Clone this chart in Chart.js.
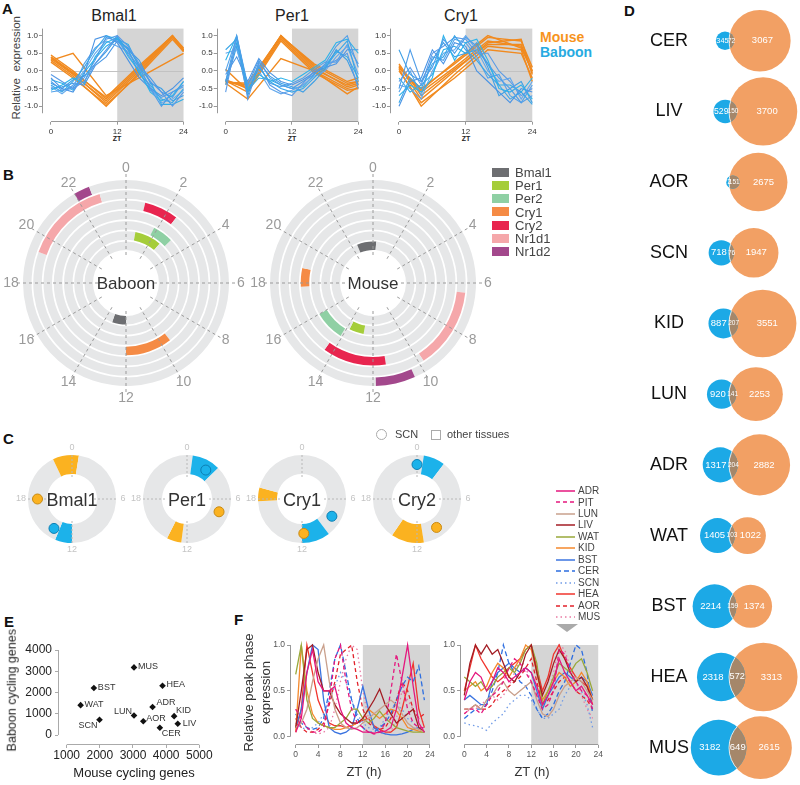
<!DOCTYPE html>
<html>
<head>
<meta charset="utf-8">
<title>Clock genes: baboon vs mouse</title>
<script src="https://cdn.jsdelivr.net/npm/chart.js@4.4.1/dist/chart.umd.min.js"></script>
<style>
 body { margin: 0; background: #fff; }
 #fig { position: relative; width: 800px; height: 785px; overflow: hidden; background: #fff;
        font-family: 'Liberation Sans', Arial, sans-serif; color: #222; }
 #fig canvas { position: absolute; }
 .t { position: absolute; white-space: pre; line-height: 1; }
 .c { text-align: center; }
 .letter { position: absolute; line-height: 1; font: bold 15px 'Liberation Sans Narrow', 'Liberation Sans', sans-serif; color: #111; }
 .rot { position: absolute; line-height: 1; text-align: center; white-space: pre; transform: rotate(-90deg); }
</style>
</head>
<body>
<div id="fig">
 <div class="letter" style="left:2px;top:0px">A</div>
 <div class="letter" style="left:3px;top:166px">B</div>
 <div class="letter" style="left:3px;top:430px">C</div>
 <div class="letter" style="left:624px;top:2px">D</div>
 <div class="letter" style="left:4px;top:613px">E</div>
 <div class="letter" style="left:234px;top:611px">F</div>

 <div class="t c" style="left:74px;top:8px;width:80px;font-size:16px">Bmal1</div>
 <div class="t c" style="left:252px;top:8px;width:80px;font-size:16px">Per1</div>
 <div class="t c" style="left:421px;top:8px;width:80px;font-size:16px">Cry1</div>
 <div class="t" style="left:540px;top:30px;font-size:14px;font-weight:bold;color:#f7941d">Mouse</div>
 <div class="t" style="left:540px;top:45px;font-size:14px;font-weight:bold;color:#27aae1">Baboon</div>
 <div class="rot" style="left:-43px;top:62px;width:120px;height:11.5px;font-size:11.5px;color:#444">Relative  expression</div>
 <div class="t c" style="left:102px;top:135px;width:30px;font-size:7px;font-weight:bold">ZT</div>
 <div class="t c" style="left:277px;top:135px;width:30px;font-size:7px;font-weight:bold">ZT</div>
 <div class="t c" style="left:451px;top:135px;width:30px;font-size:7px;font-weight:bold">ZT</div>

 <canvas id="a1" width="190" height="123" style="left:0px;top:22px"></canvas>
 <canvas id="a2" width="175" height="123" style="left:190px;top:22px"></canvas>
 <canvas id="a3" width="175" height="123" style="left:365px;top:22px"></canvas>

 <canvas id="b1" width="250" height="250" style="left:1px;top:158px"></canvas>
 <canvas id="b2" width="250" height="250" style="left:248px;top:158px"></canvas>
 <div class="t c" style="left:76px;top:275px;width:100px;font-size:17px;color:#333">Baboon</div>
 <div class="t c" style="left:323px;top:275px;width:100px;font-size:17px;color:#333">Mouse</div>
 <div id="bleg"></div>

 <canvas id="c1" width="120" height="120" style="left:12px;top:439px"></canvas>
 <canvas id="c2" width="120" height="120" style="left:127px;top:439px"></canvas>
 <canvas id="c3" width="120" height="120" style="left:242px;top:439px"></canvas>
 <canvas id="c4" width="120" height="120" style="left:357px;top:439px"></canvas>
 <div id="ccenter"></div>
 <div style="position:absolute;left:376px;top:429px;width:11px;height:11px;box-sizing:border-box;border:1px solid #aaa;border-radius:50%"></div>
 <div class="t" style="left:395px;top:429px;font-size:11px;color:#444">SCN</div>
 <div style="position:absolute;left:431px;top:430px;width:10px;height:10px;box-sizing:border-box;border:1px solid #aaa"></div>
 <div class="t" style="left:447px;top:429px;font-size:11px;color:#444">other tissues</div>

 <canvas id="d" width="180" height="785" style="left:620px;top:0px"></canvas>

 <canvas id="e" width="215" height="155" style="left:0px;top:630px"></canvas>
 <div class="rot" style="left:-63px;top:683.75px;width:150px;height:12.5px;font-size:12.5px">Baboon cycling genes</div>
 <div class="t c" style="left:54px;top:765.5px;width:160px;font-size:13px">Mouse cycling genes</div>

 <canvas id="f1" width="205" height="150" style="left:232px;top:635px"></canvas>
 <canvas id="f2" width="175" height="150" style="left:430px;top:635px"></canvas>
 <div class="rot" style="left:178px;top:685.5px;width:140px;height:13px;font-size:13px;color:#333">Relative peak phase</div>
 <div class="rot" style="left:195px;top:685.5px;width:140px;height:13px;font-size:13px;color:#333">expression</div>
 <div class="t c" style="left:324px;top:764.5px;width:80px;font-size:13px;color:#333">ZT (h)</div>
 <div class="t c" style="left:492px;top:764.5px;width:80px;font-size:13px;color:#333">ZT (h)</div>
 <div id="fleg"></div>
 <div style="position:absolute;left:556px;top:624px;width:0;height:0;border-left:11px solid transparent;border-right:11px solid transparent;border-top:8px solid #aaa"></div>
</div>

<script>
'use strict';

// ---------- A : relative expression over the day ----------
var aMouseZT = [0, 4, 10, 16, 22, 24];
var aBaboonZT = [0, 2, 4, 6, 8, 10, 12, 14, 16, 18, 20, 22, 24];

var bmal1Mouse = [
 [0.35, -0.10, -0.85, 0.05, 1.00, 0.60],
 [0.40, -0.05, -0.75, 0.15, 1.00, 0.60],
 [0.30, -0.15, -1.00, -0.05, 0.95, 0.55],
 [0.45, 0.00, -0.80, 0.10, 1.00, 0.65],
 [0.30, 0.50, -0.70, -0.19, 0.33, 0.50],
 [0.38, -0.08, -0.90, 0.00, 0.98, 0.58],
 [0.25, -0.20, -0.95, -0.10, 0.90, 0.55]
];
var bmal1Baboon = [
 [-0.30, -0.55, -0.45, -0.20, 0.30, 0.95, 0.85, 0.50, 0.10, -0.50, -1.00, -0.60, -0.40],
 [-0.40, -0.60, -0.30, 0.10, 0.60, 1.00, 0.90, 0.60, -0.10, -0.40, -0.80, -0.90, -0.50],
 [-0.10, -0.30, -0.50, -0.30, 0.20, 0.60, 1.00, 0.70, 0.20, -0.30, -0.60, -1.00, -0.60],
 [-0.55, -0.40, -0.20, -0.35, 0.40, 0.80, 0.95, 0.40, 0.00, -0.60, -0.85, -0.70, -0.30],
 [-0.20, -0.50, -0.60, -0.10, 0.90, 1.00, 0.80, 0.30, -0.20, -0.50, -0.70, -0.50, -0.20],
 [-0.45, -0.65, -0.40, 0.00, 0.50, 0.85, 0.70, 0.55, 0.05, -0.45, -0.90, -0.80, -0.55],
 [-0.35, -0.50, -0.25, -0.15, 0.20, 0.55, 0.95, 0.60, 0.30, -0.35, -0.50, -0.85, -0.70],
 [-0.60, -0.55, -0.50, 0.20, 0.65, 0.90, 1.00, 0.45, -0.05, -0.55, -0.75, -0.60, -0.45],
 [-0.25, -0.35, -0.55, -0.05, 0.35, 0.70, 0.90, 0.75, 0.10, -0.30, -0.95, -0.95, -0.80],
 [-0.50, -0.45, -0.35, -0.40, 0.15, 0.40, 0.85, 0.65, 0.15, -0.20, -0.60, -0.75, -0.30]
];
var per1Mouse = [
 [-0.30, -0.45, 1.00, 0.10, -0.45, -0.35],
 [-0.25, -0.50, 0.95, 0.05, -0.40, -0.30],
 [-0.35, -0.80, 0.35, 0.00, -0.65, -0.45],
 [-0.30, -0.40, 1.00, 0.15, -0.35, -0.30],
 [0.05, -0.55, 0.90, 0.00, -0.50, -0.40],
 [-0.32, -0.35, 0.98, 0.20, -0.30, -0.20],
 [-0.28, -0.60, 0.85, -0.05, -0.55, -0.50]
];
var per1Baboon = [
 [-0.30, 1.00, -0.40, 0.30, -0.20, -0.40, -0.50, -0.30, -0.10, 0.20, 0.70, 1.00, 0.10],
 [0.60, 0.90, -0.60, 0.10, -0.30, -0.50, -0.60, -0.50, -0.20, 0.10, 0.50, 0.85, -0.30],
 [-0.60, 0.95, -0.80, 0.20, -0.40, -0.60, -0.70, -0.35, 0.00, 0.15, 0.30, 0.50, -0.50],
 [0.30, 1.00, -0.50, -0.10, -0.30, -0.20, -0.30, -0.10, 0.10, 0.30, 0.80, 0.90, 0.50],
 [-0.10, 0.40, -0.30, 0.35, -0.05, -0.30, -0.40, -0.25, -0.05, 0.10, 0.20, 0.60, 0.60],
 [0.50, 0.60, -0.40, 0.00, -0.50, -0.65, -0.55, -0.40, -0.15, 0.00, 0.40, 0.70, -0.10],
 [-0.40, 0.70, -0.70, 0.25, -0.15, -0.35, -0.45, -0.60, -0.30, 0.05, 0.60, 0.30, -0.40],
 [0.00, 0.95, -0.45, 0.15, -0.35, -0.45, -0.35, -0.20, 0.05, 0.25, 0.25, 0.75, 0.20],
 [-0.30, 0.80, -0.55, -0.20, -0.25, -0.40, -0.50, -0.45, -0.10, 0.15, 0.55, 0.40, -0.20]
];
var cry1Mouse = [
 [0.10, -0.60, 0.10, 0.85, 0.70, 0.00],
 [0.15, -0.80, 0.00, 0.80, 0.90, -0.10],
 [0.05, -1.00, -0.10, 0.70, 0.60, -0.30],
 [0.10, -0.50, 0.20, 0.95, 0.85, 0.10],
 [0.20, -0.70, 0.05, 0.75, 0.75, -0.05],
 [0.00, -0.90, -0.20, 0.60, 0.50, -0.20],
 [0.10, -0.55, 0.25, 1.00, 0.65, 0.00]
];
var cry1Baboon = [
 [-0.50, 0.60, -0.30, 0.10, 0.90, 0.50, 0.95, 0.70, 0.20, -0.20, -0.50, -0.90, -0.70],
 [-0.90, -0.20, -0.50, 0.20, 0.40, 1.00, 0.60, 0.30, -0.10, -0.40, -0.80, -0.60, -0.95],
 [-0.30, 0.10, -0.40, 0.50, 0.70, 0.95, 0.90, 0.50, 0.50, 0.00, -0.30, -0.70, -0.50],
 [-0.70, -0.40, -0.60, -0.20, 1.00, 0.30, 0.80, 0.90, 0.30, -0.50, -0.60, -0.40, -0.80],
 [-1.00, -0.30, -0.20, 0.60, 0.20, 0.80, 0.70, 0.00, -0.30, -0.60, -0.90, -0.50, -0.60],
 [-0.40, -0.50, -0.80, 0.00, 0.50, 0.60, 1.00, 0.60, 0.00, -0.30, -0.20, -0.80, -0.30],
 [0.60, -0.10, -0.30, 0.30, 0.80, 0.40, 0.50, 0.80, 0.10, -0.70, -0.50, -0.30, -0.90],
 [-0.60, 0.00, -0.70, 0.40, 0.30, 0.90, 0.80, 0.40, -0.20, -0.10, -0.70, -0.90, -0.40],
 [-0.20, -0.60, -0.40, -0.10, 0.60, 0.70, 0.50, 0.60, 0.20, -0.40, -0.40, -0.60, -0.20]
];

// ---------- B : peak phase per clock gene ----------
var bGenes = ['Bmal1', 'Per1', 'Per2', 'Cry1', 'Cry2', 'Nr1d1', 'Nr1d2'];
var baboonPhase = [[12.0, 13.3], [0.7, 2.7], [1.8, 3.1], [9.5, 12.0], [0.9, 2.5], [19.3, 22.9], [22.0, 22.6]];
var mousePhase = [[22.5, 0.3], [12.7, 13.8], [14.1, 16.0], [17.8, 18.8], [11.4, 14.4], [6.4, 9.8], [10.4, 11.9]];
var clockHours = [0, 2, 4, 6, 8, 10, 12, 14, 16, 18, 20, 22];

// ---------- C : SCN vs other tissues ----------
var cGenes = ['Bmal1', 'Per1', 'Cry1', 'Cry2'];
var cMouseTissues = [[22.3, 0.6], [12.5, 13.8], [17.8, 19.0], [11.4, 14.3]];
var cBaboonTissues = [[12.0, 13.5], [0.5, 3.0], [9.5, 12.0], [0.6, 2.5]];
var cMouseSCN = [18.0, 7.45, 11.8, 9.7];
var cBaboonSCN = [14.1, 2.2, 8.0, 0.0];
var cHours = [0, 6, 12, 18];

// ---------- D : overlap of cycling genes ----------
var vennTissues = ['CER', 'LIV', 'AOR', 'SCN', 'KID', 'LUN', 'ADR', 'WAT', 'BST', 'HEA', 'MUS'];
var baboonOnly = [345, 529, 72, 718, 887, 920, 1317, 1405, 2214, 2318, 3182];
var sharedGenes = [72, 150, 151, 76, 207, 141, 204, 103, 159, 572, 649];
var mouseOnly = [3067, 3700, 2675, 1947, 3551, 2253, 2882, 1022, 1374, 3313, 2615];

// ---------- E : cycling gene counts ----------
var eTissues = ['MUS', 'BST', 'WAT', 'SCN', 'LUN', 'AOR', 'ADR', 'HEA', 'KID', 'LIV', 'CER'];
var eMouse = [3030, 1820, 1420, 1990, 3030, 3310, 3590, 3890, 4240, 4350, 3810];
var eBaboon = [3182, 2214, 1405, 718, 920, 650, 1317, 2318, 887, 529, 345];

// ---------- F : relative peak phase expression ----------
var fZT = [0, 1, 2, 3, 4, 5, 6, 7, 8, 9, 10, 11, 12, 13, 14, 15, 16, 17, 18, 19, 20, 21, 22, 23];
var fTissues = ['ADR', 'PIT', 'LUN', 'LIV', 'WAT', 'KID', 'BST', 'CER', 'SCN', 'HEA', 'AOR', 'MUS'];
var fLeft = [
 [0.05, 0.20, 0.70, 0.95, 0.60, 0.50, 0.50, 0.55, 0.30, 0.15, 0.10, 0.08, 0.05, 0.05, 0.04, 0.05, 0.06, 0.10, 0.30, 0.65, 1.00, 0.55, 0.15, 0.05],
 [0.30, 0.20, 0.10, 0.05, 0.05, 0.10, 0.40, 0.85, 1.00, 0.60, 0.30, 0.15, 0.10, 0.05, 0.03, 0.05, 0.15, 0.50, 0.90, 0.60, 0.30, 0.15, 0.10, 0.10],
 [0.10, 0.15, 0.30, 0.60, 0.85, 1.00, 0.60, 0.30, 0.15, 0.10, 0.08, 0.10, 0.15, 0.20, 0.25, 0.30, 0.35, 0.40, 0.35, 0.25, 0.15, 0.10, 0.08, 0.05],
 [0.10, 0.50, 0.95, 1.00, 0.70, 0.50, 0.50, 0.35, 0.25, 0.20, 0.15, 0.15, 0.20, 0.30, 0.40, 0.52, 0.35, 0.25, 0.15, 0.20, 0.25, 0.30, 0.10, 0.05],
 [0.68, 1.00, 0.40, 0.20, 0.15, 0.12, 0.10, 0.10, 0.15, 0.20, 0.30, 0.30, 0.20, 0.15, 0.20, 0.28, 0.20, 0.15, 0.10, 0.08, 0.06, 0.05, 0.05, 0.05],
 [0.05, 1.00, 0.50, 0.25, 0.15, 0.12, 0.10, 0.08, 0.08, 0.10, 0.12, 0.15, 0.20, 0.30, 0.25, 0.20, 0.25, 0.30, 0.28, 0.20, 0.10, 0.08, 0.06, 0.05],
 [0.10, 0.30, 0.70, 1.00, 0.95, 0.40, 0.10, 0.05, 0.03, 0.05, 0.10, 0.30, 0.55, 0.30, 0.10, 0.05, 0.03, 0.02, 0.02, 0.03, 0.05, 0.08, 0.10, 0.05],
 [0.25, 0.15, 0.10, 0.08, 0.10, 0.20, 0.50, 0.85, 1.00, 0.70, 0.40, 0.20, 0.10, 0.05, 0.05, 0.10, 0.15, 0.25, 0.40, 0.55, 0.65, 0.60, 0.77, 0.40],
 [0.15, 0.10, 0.08, 0.10, 0.15, 0.25, 0.40, 0.55, 0.70, 0.60, 0.40, 0.25, 0.15, 0.10, 0.08, 0.10, 0.20, 0.30, 0.35, 0.30, 0.20, 0.15, 0.10, 0.10],
 [0.05, 0.30, 1.00, 0.70, 0.40, 0.25, 0.15, 0.12, 0.12, 0.10, 0.12, 0.15, 0.18, 0.20, 0.12, 0.08, 0.05, 0.05, 0.10, 0.30, 0.55, 0.80, 0.30, 0.10],
 [0.20, 0.10, 0.05, 0.05, 0.08, 0.15, 0.35, 0.60, 0.90, 0.95, 1.00, 0.60, 0.30, 0.15, 0.10, 0.08, 0.10, 0.20, 0.40, 0.60, 0.50, 0.30, 0.20, 0.25],
 [0.30, 0.20, 0.10, 0.05, 0.03, 0.05, 0.10, 0.30, 0.60, 0.85, 1.00, 0.95, 0.50, 0.20, 0.10, 0.05, 0.03, 0.05, 0.20, 0.50, 0.40, 0.30, 0.20, 0.15]
];
var fRight = [
 [0.40, 0.60, 0.70, 0.65, 0.50, 0.60, 0.75, 0.70, 0.60, 0.65, 0.70, 0.75, 0.70, 0.55, 0.35, 0.45, 0.60, 0.85, 0.70, 0.60, 0.50, 0.55, 0.45, 0.35],
 [0.25, 0.30, 0.30, 0.25, 0.35, 0.45, 0.50, 0.60, 0.75, 0.85, 0.80, 0.70, 0.60, 0.45, 0.30, 0.35, 0.50, 0.95, 0.90, 0.70, 0.60, 0.50, 0.45, 0.30],
 [0.30, 0.30, 0.35, 0.30, 0.40, 0.45, 0.55, 0.60, 0.50, 0.45, 0.50, 0.55, 0.60, 0.40, 0.25, 0.22, 0.30, 0.45, 0.55, 0.60, 0.65, 0.60, 0.50, 0.40],
 [0.45, 0.80, 1.00, 0.90, 1.00, 0.90, 0.95, 0.80, 0.65, 0.60, 0.70, 0.90, 1.00, 0.70, 0.45, 0.60, 0.80, 0.95, 0.85, 0.70, 0.60, 0.65, 0.55, 0.40],
 [0.65, 0.60, 0.55, 0.60, 0.50, 0.55, 0.65, 0.70, 0.75, 0.70, 0.80, 0.95, 1.00, 0.80, 0.35, 0.50, 0.65, 0.80, 0.75, 0.70, 0.80, 0.85, 0.70, 0.50],
 [0.50, 0.55, 0.60, 0.50, 0.55, 0.70, 0.80, 0.75, 0.65, 0.75, 0.85, 1.00, 0.95, 0.70, 0.40, 0.50, 0.60, 0.70, 0.65, 0.55, 0.60, 0.70, 0.60, 0.40],
 [0.40, 0.45, 0.40, 0.35, 0.35, 0.60, 0.70, 0.75, 0.80, 0.75, 0.70, 0.75, 0.70, 0.50, 0.30, 0.45, 0.55, 0.65, 0.70, 0.65, 0.60, 0.65, 0.60, 0.45],
 [0.20, 0.25, 0.30, 0.30, 0.35, 0.50, 0.70, 1.00, 0.80, 0.70, 0.60, 0.55, 0.45, 0.30, 0.20, 0.25, 0.35, 0.50, 0.60, 0.80, 1.00, 0.95, 0.70, 0.25],
 [0.15, 0.13, 0.12, 0.10, 0.07, 0.15, 0.20, 0.25, 0.35, 0.40, 0.45, 0.45, 0.40, 0.30, 0.20, 0.20, 0.25, 0.30, 0.45, 0.55, 0.60, 0.50, 0.35, 0.10],
 [0.50, 0.75, 1.00, 0.85, 0.75, 0.65, 0.60, 0.65, 0.75, 0.80, 0.85, 0.95, 1.00, 0.75, 0.50, 0.65, 0.90, 1.00, 0.85, 0.75, 0.65, 0.60, 0.55, 0.35],
 [0.30, 0.30, 0.35, 0.30, 0.30, 0.35, 0.45, 0.50, 0.55, 0.60, 0.65, 0.75, 0.85, 0.60, 0.35, 0.40, 0.50, 0.60, 0.65, 0.60, 0.50, 0.45, 0.40, 0.30],
 [0.25, 0.30, 0.30, 0.35, 0.40, 0.45, 0.40, 0.45, 0.55, 0.70, 0.85, 0.75, 0.60, 0.45, 0.35, 0.45, 0.70, 1.00, 0.95, 0.75, 0.60, 0.45, 0.30, 0.20]
];

// ---------- styles ----------
var mouseColor = '#f18a1f';
var blueShades = ['#4f9de8', '#3aa6e8', '#5a9ae6', '#2fb3ea', '#4a94e4', '#62a8ec', '#3d9fe6', '#55a3ea', '#2eaee8', '#4b99e6'];
var geneColors = ['#6d6e71', '#a5cd3a', '#8fd0a4', '#f58b45', '#e8254f', '#f5a7aa', '#a3488c'];
var ringGray = '#e6e7e8';
var fColors = ['#e5177e', '#e5177e', '#c9a08c', '#a31d24', '#98a83a', '#f4892c', '#3b74e0', '#2d6ee0', '#6f9ae6', '#f1342d', '#e2222b', '#e97aa2'];
var fDash = [[], [4, 3], [], [], [], [], [], [5, 3], [1.5, 3], [], [4, 3], [1.5, 3]];

Chart.defaults.animation = false;
Chart.defaults.events = [];
Chart.defaults.font.family = "'Liberation Sans', Arial, sans-serif";
Chart.defaults.layout.autoPadding = false;
Chart.defaults.plugins.legend.display = false;
Chart.defaults.plugins.tooltip.enabled = false;

// ---------- plugins ----------
var shadePlugin = {
  id: 'shade',
  beforeDatasetsDraw: function (chart, args, o) {
    var ca = chart.chartArea, xs = chart.scales.x, ctx = chart.ctx;
    var x0 = xs.getPixelForValue(o.from), x1 = xs.getPixelForValue(o.to);
    ctx.save();
    ctx.fillStyle = o.color;
    ctx.fillRect(x0, ca.top, x1 - x0, ca.bottom - ca.top);
    if (o.zero) {
      var y0 = Math.round(chart.scales.y.getPixelForValue(0)) + 0.5;
      ctx.strokeStyle = o.zero;
      ctx.lineWidth = 1;
      ctx.beginPath();
      ctx.moveTo(xs.getPixelForValue(0), y0);
      ctx.lineTo(x1, y0);
      ctx.stroke();
    }
    ctx.restore();
  }
};

var axesPlugin = {
  id: 'offsetAxes',
  afterDatasetsDraw: function (chart, args, o) {
    var ca = chart.chartArea, xs = chart.scales.x, ys = chart.scales.y, ctx = chart.ctx;
    var xl = Math.round(ca.left) + 0.5, yb = Math.round(ca.bottom) - 0.5;
    ctx.save();
    ctx.strokeStyle = o.color;
    ctx.lineWidth = 1;
    ctx.beginPath();
    ctx.moveTo(xl, ys.getPixelForValue(o.y[0]));
    ctx.lineTo(xl, ys.getPixelForValue(o.y[1]));
    ctx.moveTo(xs.getPixelForValue(o.x[0]), yb);
    ctx.lineTo(xs.getPixelForValue(o.x[1]), yb);
    ctx.stroke();
    ctx.restore();
  }
};

var clockPlugin = {
  id: 'clock',
  afterDatasetsDraw: function (chart, args, o) {
    var outer = chart.getDatasetMeta(0).data[0];
    var inner = chart.getDatasetMeta(chart.data.datasets.length - 1).data[0];
    var cx = outer.x, cy = outer.y, R = outer.outerRadius, r0 = inner.innerRadius;
    var ctx = chart.ctx;
    function ang(h) { return h / 24 * Math.PI * 2 - Math.PI / 2; }
    ctx.save();
    ctx.strokeStyle = o.lineColor;
    ctx.lineWidth = 1;
    ctx.setLineDash(o.dash);
    ctx.font = o.font;
    ctx.fillStyle = o.textColor;
    ctx.textAlign = 'center';
    ctx.textBaseline = 'middle';
    o.hours.forEach(function (h) {
      var a = ang(h), c = Math.cos(a), s = Math.sin(a);
      ctx.beginPath();
      ctx.moveTo(cx + c * (r0 - o.inset), cy + s * (r0 - o.inset));
      ctx.lineTo(cx + c * (R + o.over), cy + s * (R + o.over));
      ctx.stroke();
      ctx.fillText(String(h), cx + c * (R + o.labelGap), cy + s * (R + o.labelGap));
    });
    ctx.setLineDash([]);
    (o.dots || []).forEach(function (d) {
      var a = ang(d.h), rm = (R + r0) / 2;
      ctx.beginPath();
      ctx.arc(cx + Math.cos(a) * rm, cy + Math.sin(a) * rm, o.dotRadius, 0, Math.PI * 2);
      ctx.fillStyle = d.fill;
      ctx.fill();
      ctx.strokeStyle = d.stroke;
      ctx.stroke();
    });
    ctx.restore();
  }
};

var labelPlugin = {
  id: 'pointLabels',
  afterDatasetsDraw: function (chart, args, o) {
    var ctx = chart.ctx;
    ctx.save();
    ctx.font = o.font;
    ctx.fillStyle = o.color;
    ctx.textBaseline = 'middle';
    chart.getDatasetMeta(0).data.forEach(function (pt, i) {
      var p = o.place[o.names[i]];
      ctx.textAlign = p[0] < 0 ? 'right' : 'left';
      ctx.fillText(o.names[i], pt.x + p[0], pt.y + p[1]);
    });
    ctx.restore();
  }
};

var vennPlugin = {
  id: 'venn',
  afterDatasetsDraw: function (chart, args, o) {
    var ctx = chart.ctx;
    var blue = chart.getDatasetMeta(0).data, orange = chart.getDatasetMeta(1).data;
    // shrink the count text when its region is narrow
    function count(n, from, to, y) {
      var s = String(n), w = to - from;
      var size = Math.max(6.5, Math.min(o.maxSize, (w - 1) / (0.56 * s.length)));
      ctx.font = size + "px 'Liberation Sans', Arial, sans-serif";
      ctx.fillText(s, (from + to) / 2, y);
    }
    ctx.save();
    blue.forEach(function (b, i) {
      var m = orange[i], r1 = b.options.radius, r2 = m.options.radius, y = b.y;
      ctx.save();
      ctx.beginPath();
      ctx.arc(b.x, y, r1, 0, Math.PI * 2);
      ctx.clip();
      ctx.beginPath();
      ctx.arc(m.x, y, r2, 0, Math.PI * 2);
      ctx.fillStyle = o.lens;
      ctx.fill();
      ctx.strokeStyle = o.edge;
      ctx.lineWidth = 1;
      ctx.stroke();
      ctx.restore();
      var lensL = m.x - r2, lensR = b.x + r1;
      ctx.fillStyle = '#fff';
      ctx.textAlign = 'center';
      ctx.textBaseline = 'middle';
      count(baboonOnly[i], b.x - r1, lensL, y);
      count(sharedGenes[i], lensL, lensR, y);
      count(mouseOnly[i], lensR, m.x + r2, y);
      ctx.fillStyle = o.labelColor;
      ctx.font = o.labelFont;
      ctx.fillText(vennTissues[i], o.labelX, y);
    });
    ctx.restore();
  }
};

// ---------- helpers ----------
function xy(zt, vals) {
  return vals.map(function (v, j) { return { x: zt[j], y: v }; });
}

function lineSet(zt, vals, color, width, dash) {
  return { data: xy(zt, vals), borderColor: color, borderWidth: width, borderDash: dash || [],
           pointRadius: 0, tension: 0, fill: false, clip: false };
}

function axis(o) {
  return {
    type: 'linear', min: o.min, max: o.max,
    afterFit: o.fit,
    afterBuildTicks: function (s) { s.ticks = o.ticks.map(function (v) { return { value: v }; }); },
    border: { display: false },
    grid: { drawOnChartArea: false, drawTicks: true, tickLength: o.tickLength || 3, color: o.lineColor },
    ticks: { autoSkip: false, maxRotation: 0, padding: o.padding, color: o.color, font: { size: o.size }, callback: o.format }
  };
}

function oneDecimal(v) { return Number(v).toFixed(1); }
function plain(v) { return String(v); }

// split a 24 h ring into gray / coloured pieces
function ringData(arcs, base) {
  var parts = [];
  arcs.forEach(function (a) {
    if (a[1] < a[0]) { parts.push([a[0], 24, a[2]]); parts.push([0, a[1], a[2]]); }
    else parts.push(a);
  });
  parts.sort(function (p, q) { return p[0] - q[0]; });
  var data = [], colors = [], t = 0;
  parts.forEach(function (p) {
    if (p[0] > t) { data.push(p[0] - t); colors.push(base); }
    data.push(p[1] - p[0]); colors.push(p[2]);
    t = p[1];
  });
  if (t < 24) { data.push(24 - t); colors.push(base); }
  return { data: data, colors: colors };
}

// ---------- A ----------
function panelA(id, mouse, baboon, yw, padRight) {
  var sets = baboon.map(function (v, i) { return lineSet(aBaboonZT, v, blueShades[i % blueShades.length], 1.1); })
    .concat(mouse.map(function (v) { return lineSet(aMouseZT, v, mouseColor, 1.4); }));
  return new Chart(document.getElementById(id), {
    type: 'line',
    data: { datasets: sets },
    options: {
      responsive: false,
      layout: { padding: { left: 0, right: padRight, top: 6.6, bottom: 0 } },
      scales: {
        x: axis({ min: -1.62, max: 24.2, ticks: [0, 12, 24], fit: function (s) { s.height = 23.3; },
                  lineColor: '#999', padding: 2, color: '#333', size: 8, format: plain }),
        y: axis({ min: -1.44, max: 1.2, ticks: [-1, -0.5, 0, 0.5, 1], fit: function (s) { s.width = yw; },
                  lineColor: '#999', padding: 1, color: '#333', size: 8, format: oneDecimal })
      },
      plugins: {
        shade: { from: 12, to: 24, color: '#d5d5d5', zero: '#c2c2c2' },
        offsetAxes: { x: [0, 24], y: [-1.2, 1.2], color: '#999' }
      }
    },
    plugins: [shadePlugin, axesPlugin]
  });
}
panelA('a1', bmal1Mouse, bmal1Baboon, 42, 4.6);
panelA('a2', per1Mouse, per1Baboon, 26.7, 5.6);
panelA('a3', cry1Mouse, cry1Baboon, 25, 6.6);

// ---------- B ----------
function panelB(id, phases) {
  var sets = [];
  for (var g = bGenes.length - 1; g >= 0; g--) {
    var seg = ringData([[phases[g][0], phases[g][1], geneColors[g]]], ringGray);
    sets.push({ data: seg.data, backgroundColor: seg.colors, borderWidth: 0, weight: 1 });
    if (g > 0) sets.push({ data: [1], backgroundColor: 'rgba(0,0,0,0)', borderWidth: 0, weight: 0.2 });
  }
  return new Chart(document.getElementById(id), {
    type: 'doughnut',
    data: { datasets: sets },
    options: {
      responsive: false, cutout: 33, layout: { padding: 22 },
      plugins: { clock: { hours: clockHours, font: "14px 'Liberation Sans', Arial, sans-serif", textColor: '#9a9a9a',
                          lineColor: '#9a9a9a', dash: [3, 3], inset: 5, over: 6, labelGap: 12 } }
    },
    plugins: [clockPlugin]
  });
}
panelB('b1', baboonPhase);
panelB('b2', mousePhase);

var bleg = document.getElementById('bleg');
bGenes.forEach(function (g, i) {
  var yc = 172.3 + i * 13.2;
  var sw = document.createElement('div');
  sw.setAttribute('style', 'position:absolute;left:492px;top:' + (yc - 4.5) + 'px;width:16.5px;height:9px;background:' + geneColors[i]);
  var tx = document.createElement('div');
  tx.className = 't';
  tx.setAttribute('style', 'left:515px;top:' + (yc - 6.4) + 'px;font-size:13px;color:#444');
  tx.textContent = g;
  bleg.append(sw);
  bleg.append(tx);
});

// ---------- C ----------
var cOrange = '#fbb220', cBlue = '#1cb2ea';
cGenes.forEach(function (g, i) {
  var seg = ringData([[cMouseTissues[i][0], cMouseTissues[i][1], cOrange], [cBaboonTissues[i][0], cBaboonTissues[i][1], cBlue]], ringGray);
  new Chart(document.getElementById('c' + (i + 1)), {
    type: 'doughnut',
    data: { datasets: [{ data: seg.data, backgroundColor: seg.colors, borderWidth: 0 }] },
    options: {
      responsive: false, cutout: 25, layout: { padding: 16 },
      plugins: { clock: { hours: cHours, font: "9px 'Liberation Sans', Arial, sans-serif", textColor: '#c4c4c4',
                          lineColor: '#b8b8b8', dash: [2, 2], inset: 3, over: 1, labelGap: 7, dotRadius: 5,
                          dots: [{ h: cMouseSCN[i], fill: cOrange, stroke: '#c98a12' },
                                 { h: cBaboonSCN[i], fill: cBlue, stroke: '#0c7fb4' }] } }
    },
    plugins: [clockPlugin]
  });
  var tx = document.createElement('div');
  tx.className = 't c';
  tx.setAttribute('style', 'left:' + (22 + i * 115) + 'px;top:491px;width:100px;font-size:18px;color:#333');
  tx.textContent = g;
  document.getElementById('ccenter').append(tx);
});

// ---------- D ----------
function lensArea(r1, r2, d) {
  if (d >= r1 + r2) return 0;
  if (d <= Math.abs(r1 - r2)) return Math.PI * Math.pow(Math.min(r1, r2), 2);
  var a1 = Math.acos((d * d + r1 * r1 - r2 * r2) / (2 * d * r1));
  var a2 = Math.acos((d * d + r2 * r2 - r1 * r1) / (2 * d * r2));
  return r1 * r1 * a1 + r2 * r2 * a2 - 0.5 * Math.sqrt((-d + r1 + r2) * (d + r1 - r2) * (d - r1 + r2) * (d + r1 + r2));
}
function centreGap(r1, r2, area) {
  var lo = Math.abs(r1 - r2), hi = r1 + r2;
  for (var k = 0; k < 60; k++) {
    var mid = (lo + hi) / 2;
    if (lensArea(r1, r2, mid) > area) lo = mid; else hi = mid;
  }
  return (lo + hi) / 2;
}
// px radius per sqrt(gene count); the figure draws mouse circles a bit larger
var kBaboon = 0.45, kMouse = 0.55;
var vennRows = vennTissues.map(function (t, i) {
  var r1 = kBaboon * Math.sqrt(baboonOnly[i] + sharedGenes[i]);
  var r2 = kMouse * Math.sqrt(mouseOnly[i] + sharedGenes[i]);
  var d = centreGap(r1, r2, Math.PI * kBaboon * kMouse * sharedGenes[i]);
  // mouse circle's left edge sits on x = 0
  return { r1: r1, r2: r2, bx: r2 - d, mx: r2 };
});
new Chart(document.getElementById('d'), {
  type: 'bubble',
  data: { datasets: [
    { data: vennRows.map(function (r, i) { return { x: r.bx, y: i, r: r.r1 }; }), backgroundColor: '#1ca9e6', borderWidth: 0, clip: false },
    { data: vennRows.map(function (r, i) { return { x: r.mx, y: i, r: r.r2 }; }), backgroundColor: '#f2a064', borderWidth: 0, clip: false }
  ] },
  options: {
    responsive: false, layout: { padding: 0, autoPadding: false },
    scales: {
      x: { type: 'linear', display: false, min: -109, max: 71 },
      y: { type: 'linear', display: false, reverse: true, min: -0.576, max: 10.528 }
    },
    plugins: { venn: { lens: '#a5876a', edge: 'rgba(255,255,255,0.8)', maxSize: 9.5,
                       labelFont: "18px 'Liberation Sans', Arial, sans-serif", labelColor: '#111', labelX: 49 } }
  },
  plugins: [vennPlugin]
});

// ---------- E ----------
new Chart(document.getElementById('e'), {
  type: 'scatter',
  data: { datasets: [{ data: eMouse.map(function (m, i) { return { x: m, y: eBaboon[i] }; }),
                       pointStyle: 'rectRot', pointRadius: 3.3, backgroundColor: '#111', borderWidth: 0 }] },
  options: {
    responsive: false,
    layout: { padding: { left: 0, right: 14, top: 20, bottom: 0 } },
    scales: {
      x: axis({ min: 738, max: 5051, ticks: [1000, 2000, 3000, 4000, 5000], fit: function (s) { s.height = 40; },
                lineColor: '#aaa', padding: 0, color: '#222', size: 12, format: plain }),
      y: axis({ min: -470, max: 4000, ticks: [0, 1000, 2000, 3000, 4000], fit: function (s) { s.width = 58; },
                lineColor: '#aaa', padding: 3, color: '#222', size: 12, format: plain })
    },
    plugins: {
      offsetAxes: { x: [1000, 5000], y: [0, 4000], color: '#aaa' },
      pointLabels: { names: eTissues, font: "9px 'Liberation Sans', Arial, sans-serif", color: '#333',
                     place: { MUS: [4, -1], BST: [4, 0], WAT: [4, -1], SCN: [-2, 6], LUN: [-2, -4], AOR: [3, -3],
                              ADR: [4, -5], HEA: [4, -1], KID: [2, -6], LIV: [5, 0], CER: [2, 6] } }
    }
  },
  plugins: [axesPlugin, labelPlugin]
});

// ---------- F ----------
function panelF(id, rows, xmin, yw, padRight) {
  var sets = rows.map(function (v, i) { return lineSet(fZT, v, fColors[i], 1.3, fDash[i]); });
  return new Chart(document.getElementById(id), {
    type: 'line',
    data: { datasets: sets },
    options: {
      responsive: false,
      layout: { padding: { left: 0, right: padRight, top: 10, bottom: 0 } },
      scales: {
        x: axis({ min: xmin, max: 24.36, ticks: [0, 4, 8, 12, 16, 20, 24], fit: function (s) { s.height = 40; },
                  lineColor: '#999', padding: 2, color: '#555', size: 8.5, format: plain }),
        y: axis({ min: -0.09, max: 1.0, ticks: [0, 0.5, 1], fit: function (s) { s.width = yw; },
                  lineColor: '#999', padding: 2, color: '#555', size: 8.5, format: oneDecimal })
      },
      plugins: {
        shade: { from: 12, to: 24, color: '#d5d5d5' },
        offsetAxes: { x: [0, 24], y: [0, 1], color: '#999' }
      }
    },
    plugins: [shadePlugin, axesPlugin]
  });
}
panelF('f1', fLeft, -1.02, 58, 5);
panelF('f2', fRight, -0.77, 30, 4);

var fleg = document.getElementById('fleg');
fTissues.forEach(function (t, i) {
  var yc = 491 + i * 11.45;
  var ns = 'http://www.w3.org/2000/svg';
  var svg = document.createElementNS(ns, 'svg');
  svg.setAttribute('width', '19');
  svg.setAttribute('height', '4');
  svg.setAttribute('style', 'position:absolute;left:556px;top:' + (yc - 2) + 'px');
  var ln = document.createElementNS(ns, 'line');
  ln.setAttribute('x1', '0'); ln.setAttribute('x2', '19'); ln.setAttribute('y1', '2'); ln.setAttribute('y2', '2');
  ln.setAttribute('stroke', fColors[i]);
  ln.setAttribute('stroke-width', '1.5');
  if (fDash[i].length) ln.setAttribute('stroke-dasharray', fDash[i].join(' '));
  svg.append(ln);
  var tx = document.createElement('div');
  tx.className = 't';
  tx.setAttribute('style', 'left:578px;top:' + (yc - 4.9) + 'px;font-size:10px;color:#444');
  tx.textContent = t;
  fleg.append(svg);
  fleg.append(tx);
});
</script>
</body>
</html>
